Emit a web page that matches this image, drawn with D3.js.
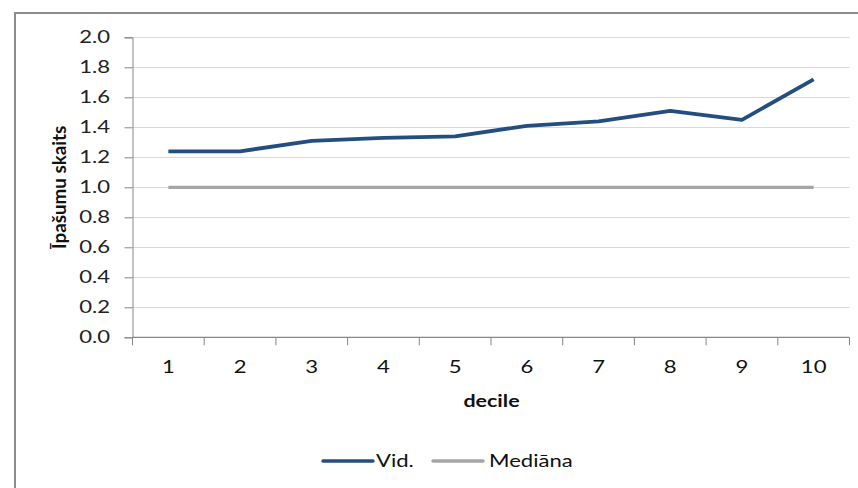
<!DOCTYPE html>
<html><head><meta charset="utf-8">
<script src="https://cdn.jsdelivr.net/npm/d3@7"></script>
<style>body{margin:0;background:#fff}svg{display:block}</style>
</head><body>
<script>
const categories = ["1","2","3","4","5","6","7","8","9","10"];
const vidValues = [1.24, 1.24, 1.31, 1.33, 1.34, 1.41, 1.44, 1.51, 1.45, 1.72];
const medianaValues = [1, 1, 1, 1, 1, 1, 1, 1, 1, 1];
const yTicks = [0, 0.2, 0.4, 0.6, 0.8, 1.0, 1.2, 1.4, 1.6, 1.8, 2.0];
const seriesNames = ["Vid.", "Mediāna"];
const colors = ["#234F80", "#A6A6A6"];

(function(){
const W = 858, H = 488;
const font = "Lato, 'Open Sans', sans-serif";
const SX = 1.3; // horizontal stretch of the original raster
const svg = d3.select("body").append("svg").attr("width", W).attr("height", H);

function htext(g, x, yy, str, opts) {
  const t = g.append("text")
    .attr("transform", `translate(${x},${yy}) scale(${SX},1)`)
    .attr("font-family", font).attr("font-size", opts.size || 17)
    .attr("fill", opts.fill || "#111")
    .attr("text-anchor", opts.anchor || "start")
    .attr("dominant-baseline", opts.baseline || "auto")
    .text(str);
  if (opts.bold) t.attr("font-weight", "bold");
  return t;
}

// outer border
svg.append("path").attr("d", `M15,${H} L15,13 L${W},13`).attr("fill","none")
  .attr("stroke","#8c8c8c").attr("stroke-width",2);

const pL = 132.5, pR = 849.5, pT = 37.3, pB = 337.3;
const x = d3.scaleBand().domain(categories).range([pL, pR]);
const y = d3.scaleLinear().domain([0, 2]).range([pB, pT]);

// gridlines
svg.append("g").selectAll("line").data(yTicks.filter(d=>d>0)).join("line")
  .attr("x1", pL).attr("x2", pR)
  .attr("y1", d=>Math.round(y(d))+0.5).attr("y2", d=>Math.round(y(d))+0.5)
  .attr("stroke","#D9D9D9").attr("stroke-width",1.2);

// y axis (line + ticks from d3 axis; labels drawn stretched)
const yAxis = svg.append("g").attr("transform",`translate(${pL},0)`)
  .call(d3.axisLeft(y).tickValues(yTicks).tickFormat("").tickSize(8));
yAxis.select(".domain").attr("stroke","#868686");
yAxis.selectAll(".tick line").attr("stroke","#868686");
const fmt = d3.format(".1f");
yTicks.forEach(v => htext(svg, 110, y(v) + 6, fmt(v), {anchor:"end", fill:"#222"}));

// x axis with ticks at band boundaries
const xg = svg.append("g").attr("transform",`translate(0,${pB})`);
xg.append("line").attr("x1",pL).attr("x2",pR).attr("stroke","#868686").attr("stroke-width",1.2);
const bounds = categories.map(c=>x(c)).concat([x(categories[categories.length-1])+x.bandwidth()]);
xg.selectAll("line.tk").data(bounds).join("line").attr("class","tk")
  .attr("x1",d=>d).attr("x2",d=>d).attr("y1",0).attr("y2",8).attr("stroke","#868686");
categories.forEach(c => htext(xg, x(c)+x.bandwidth()/2, 36, c, {anchor:"middle"}));

// axis titles
htext(svg, (pL+pR)/2 + 0.5, 407, "decile", {anchor:"middle", bold:true, size:16.5});
svg.append("text").attr("transform",`translate(66,${(pT+pB)/2}) rotate(-90)`)
  .attr("text-anchor","middle").attr("font-family",font).attr("font-weight","bold")
  .attr("font-size",18.8).attr("fill","#111").text("Īpašumu skaits");

// lines
const line = d3.line().x((d,i)=>x(categories[i])+x.bandwidth()/2).y(d=>y(d));
const widths = [3.8, 3.2];
[vidValues, medianaValues].forEach((vals, k) => {
  svg.append("path").datum(vals).attr("d", line).attr("fill","none")
    .attr("stroke", colors[k]).attr("stroke-width", widths[k]).attr("stroke-linejoin","round");
});

// legend
const leg = [{x:323, tx:376}, {x:433, tx:489}];
seriesNames.forEach((n,k) => {
  svg.append("line").attr("x1",leg[k].x).attr("x2",leg[k].x+50).attr("y1",461).attr("y2",461)
    .attr("stroke",colors[k]).attr("stroke-width",3.4).attr("stroke-linecap","round");
  htext(svg, leg[k].tx, 467, n, {});
});
})();
</script>
</body></html>
